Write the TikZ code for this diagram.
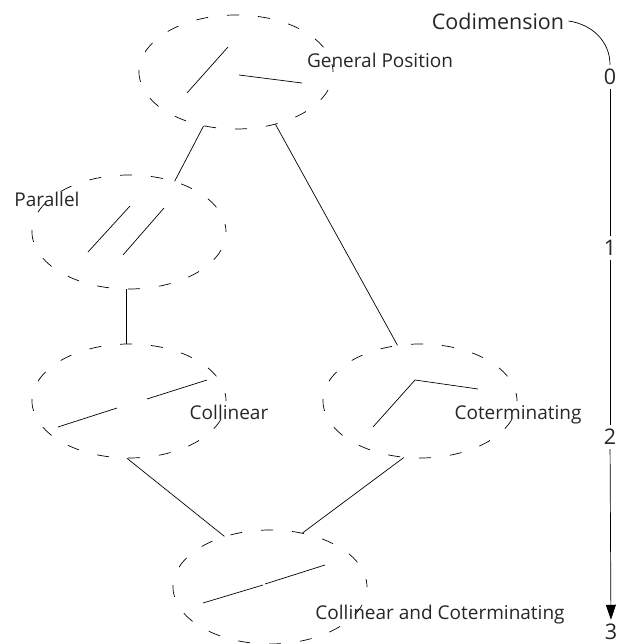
\documentclass[tikz,border=0pt]{standalone}
\usepackage{fontspec}
\setmainfont{Open Sans}
\usetikzlibrary{shapes.geometric, arrows.meta}

\begin{document}
\begin{tikzpicture}[x=1pt, y=-1pt, line width=0.7pt,
    blob/.style={ellipse, draw, dash pattern=on 12pt off 19pt, dash phase=4pt,
      minimum width=194pt, minimum height=114pt, inner sep=0pt},
    lbl/.style={font=\fontsize{19}{21}\selectfont, text=black!85, inner sep=1pt},
    dim/.style={font=\fontsize{21.5}{23}\selectfont, text=black!85, inner sep=4pt}]

  \useasboundingbox (0,0) rectangle (629,644);

  % configurations
  \node[blob] (gp)  at (236,72)  {};
  \node[blob] (par) at (129,232) {};
  \node[blob] (col) at (129,401) {};
  \node[blob] (cot) at (420,401) {};
  \node[blob] (cc)  at (270,587) {};

  \node[lbl] (gplbl)  at (380,60)  {General Position};
  \node[lbl] (parlbl) at (47,199)  {Parallel};
  \node[lbl] (collbl) at (229,412) {Collinear};
  \node[lbl] (cotlbl) at (518,415) {Coterminating};
  \node[lbl] (cclbl)  at (440,615) {Collinear and Coterminating};

  % segments
  \draw (187,93) -- (228,47);
  \draw (239,75) -- (302,83);
  \draw (88,252) -- (130,206);
  \draw (123,255) -- (164,208);
  \draw (58,427) -- (117,408);
  \draw (147,399) -- (207,380);
  \draw (373,427) -- (415,380) -- (478,389);
  \draw (203,603) -- (263,585);
  \draw (265,584) -- (325,565);

  % degenerations
  \path[draw] (gp.239) edge (par.48);
  \path[draw] (gp.307) edge (cot.112);
  \path[draw] (par.267) edge (col.93);
  \path[draw] (col.268) edge (cc.132);
  \path[draw] (cot.254) edge (cc.59);

  % codimension axis
  \node[dim] (codim) at (498,21) {Codimension};
  \node[dim] (c0) at (610,77)  {0};
  \node[dim] (c1) at (610,248) {1};
  \node[dim] (c2) at (610,437) {2};
  \node[dim] (c3) at (611,632) {3};

  \draw (codim.east) to[out=-8, in=90] (c0.north);
  \draw (c0) -- (c1);
  \draw (c1) -- (c2);
  \draw[-{Triangle[length=15pt, width=10pt]}] (c2) -- (c3);

\end{tikzpicture}
\end{document}
